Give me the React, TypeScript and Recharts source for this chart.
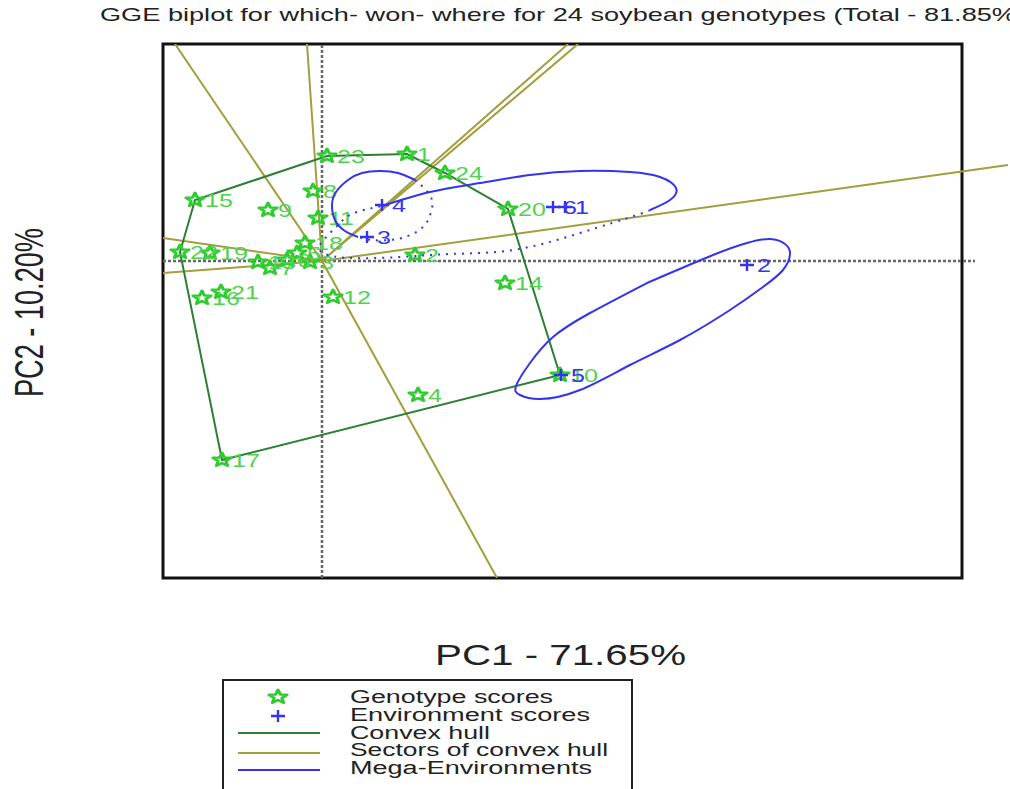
import React from 'react';
import { ScatterChart, Scatter, XAxis, YAxis, ReferenceLine, ReferenceArea } from 'recharts';

// genotype scores (PC1, PC2)
const genotypeNames = ['1', '2', '3', '4', '5', '6', '7', '8', '9', '10', '11', '12', '13', '14', '15', '16', '17', '18', '19', '20', '21', '22', '23', '24'];
const genotypePC1 = [0.85, 0.93, -0.12, 0.96, -0.25, -0.35, -0.52, -0.09, -0.54, 2.38, -0.04, 0.11, -0.64, 1.83, -1.27, -1.2, -1.0, -0.17, -1.12, 1.86, -1.01, -1.42, 0.05, 1.23];
const genotypePC2 = [1.07, 0.06, -0.01, -1.34, 0.08, 0.01, -0.07, 0.7, 0.51, -1.14, 0.43, -0.36, -0.01, -0.22, 0.61, -0.37, -1.99, 0.18, 0.08, 0.52, -0.31, 0.09, 1.05, 0.88];

// environment scores
const envNames = ['6', '1', '2', '3', '4', '5'];
const envPC1 = [2.31, 2.43, 4.25, 0.45, 0.6, 2.39];
const envPC2 = [0.54, 0.54, -0.04, 0.24, 0.56, -1.14];

// polygon vertices, in order
const hullOrder = ['23', '1', '24', '20', '10', '17', '22', '15', '23'];

// where each sector ray leaves the plot
const sectorEnds = [
  { x: -1.47, y: 2.17 },
  { x: -0.15, y: 2.17 },
  { x: 2.46, y: 2.17 },
  { x: 2.56, y: 2.17 },
  { x: 6.86, y: 0.96 },
  { x: 1.75, y: -3.17 },
  { x: -1.59, y: 0.23 },
  { x: -1.59, y: -0.12 },
];

// mega-environment outlines
const megaSmallSolid = [
  { x: 0.93, y: 0.81 }, { x: 0.76, y: 0.88 }, { x: 0.58, y: 0.9 }, { x: 0.4, y: 0.88 }, { x: 0.26, y: 0.81 },
  { x: 0.14, y: 0.69 }, { x: 0.1, y: 0.56 }, { x: 0.13, y: 0.41 }, { x: 0.23, y: 0.3 }, { x: 0.36, y: 0.24 },
];
const megaSmallDotted = [
  { x: 0.93, y: 0.81 }, { x: 1.02, y: 0.73 }, { x: 1.1, y: 0.61 }, { x: 1.09, y: 0.49 }, { x: 1.05, y: 0.39 },
  { x: 0.96, y: 0.3 }, { x: 0.83, y: 0.24 }, { x: 0.68, y: 0.21 }, { x: 0.5, y: 0.21 }, { x: 0.36, y: 0.24 },
];
const megaLongSolid = [
  { x: 0.6, y: 0.55 }, { x: 1.08, y: 0.69 }, { x: 1.58, y: 0.78 }, { x: 2.08, y: 0.86 }, { x: 2.58, y: 0.9 },
  { x: 3.08, y: 0.89 }, { x: 3.38, y: 0.84 }, { x: 3.54, y: 0.73 }, { x: 3.48, y: 0.61 }, { x: 3.28, y: 0.51 },
];
const megaLongDotted = [
  { x: 3.28, y: 0.51 }, { x: 3.15, y: 0.46 }, { x: 2.58, y: 0.28 }, { x: 1.91, y: 0.11 }, { x: 1.28, y: 0.07 },
  { x: 0.78, y: 0.04 }, { x: 0.28, y: 0.03 }, { x: 0.03, y: 0.07 }, { x: -0.02, y: 0.16 }, { x: 0.13, y: 0.33 },
  { x: 0.3, y: 0.47 }, { x: 0.6, y: 0.55 },
];
const megaLower = [
  { x: 3.25, y: -0.22 }, { x: 3.91, y: 0.06 }, { x: 4.25, y: 0.18 }, { x: 4.48, y: 0.22 }, { x: 4.63, y: 0.17 },
  { x: 4.68, y: 0.07 }, { x: 4.61, y: -0.09 }, { x: 4.41, y: -0.26 }, { x: 4.08, y: -0.49 }, { x: 3.58, y: -0.79 },
  { x: 3.08, y: -1.04 }, { x: 2.58, y: -1.29 }, { x: 2.18, y: -1.38 }, { x: 1.98, y: -1.34 }, { x: 1.94, y: -1.25 },
  { x: 2.08, y: -1.02 }, { x: 2.31, y: -0.76 }, { x: 2.68, y: -0.52 }, { x: 3.25, y: -0.22 },
];

const X_DOMAIN: [number, number] = [-1.59, 6.88];
const Y_DOMAIN: [number, number] = [-3.17, 2.17];
const BOX_RIGHT = 6.4;
const ZERO_END = 6.53;

const FONT = "'Liberation Sans', Arial, sans-serif";
const STAR_GREEN = '#2ecc2e';
const LABEL_GREEN = '#4fd34f';
const HULL_GREEN = '#2c7f33';
const OLIVE = '#a39e3e';
const BLUE = '#3434f0';
const STRETCH = 1.32;

const genotypes = genotypeNames.map((name, i) => ({ name, x: genotypePC1[i], y: genotypePC2[i] }));
const environments = envNames.map((name, i) => ({ name, x: envPC1[i], y: envPC2[i] }));
const hull = hullOrder.map((n) => genotypes.find((g) => g.name === n)!);
const sectors = sectorEnds.flatMap((p) => [{ x: 0, y: 0 }, p]);

function starPoints(r: number, ir: number) {
  const pts: string[] = [];
  for (let i = 0; i < 10; i++) {
    const a = -Math.PI / 2 + (i * Math.PI) / 5;
    const rr = i % 2 === 0 ? r : ir;
    pts.push(`${(rr * Math.cos(a)).toFixed(2)},${(rr * Math.sin(a)).toFixed(2)}`);
  }
  return pts.join(' ');
}
const STAR = starPoints(7.2, 3.1);

const NoMark = () => <g />;

const GenotypeMark = (props: any) => {
  const { cx, cy, payload } = props;
  if (cx == null || cy == null) return <g />;
  return (
    <g>
      <polygon points={STAR} transform={`translate(${cx},${cy}) scale(${STRETCH},1)`} fill="none"
        stroke={STAR_GREEN} strokeWidth={2.4} strokeLinejoin="round" />
      <text transform={`translate(${cx + 10},${cy + 7}) scale(${STRETCH},1)`} fontSize={19} fontFamily={FONT}
        fill={LABEL_GREEN}>{payload.name}</text>
    </g>
  );
};

const EnvMark = (props: any) => {
  const { cx, cy, payload } = props;
  if (cx == null || cy == null) return <g />;
  return (
    <g>
      <path d={`M${cx - 7},${cy}H${cx + 7}M${cx},${cy - 6}V${cy + 6}`} stroke={BLUE} strokeWidth={2.4} />
      <text transform={`translate(${cx + 10},${cy + 7}) scale(${STRETCH},1)`} fontSize={19} fontFamily={FONT}
        fill={BLUE}>{payload.name}</text>
    </g>
  );
};

const legendRows = [
  { label: 'Genotype scores', len: 203 },
  { label: 'Environment scores', len: 240 },
  { label: 'Convex hull', len: 140 },
  { label: 'Sectors of convex hull', len: 258 },
  { label: 'Mega-Environments', len: 242 },
];

function Overlay() {
  return (
    <svg width={1010} height={789} style={{ position: 'absolute', left: 0, top: 0, pointerEvents: 'none' }}
      fontFamily={FONT}>
      <text x={100} y={21} fontSize={19} fill="#222" textLength={916} lengthAdjust="spacingAndGlyphs">
        GGE biplot for which- won- where for 24 soybean genotypes (Total - 81.85%
      </text>
      <text x={435} y={665} fontSize={30} fill="#222" textLength={251} lengthAdjust="spacingAndGlyphs">
        PC1 - 71.65%
      </text>
      <text transform="translate(43,397) rotate(-90) scale(1,1.5)" fontSize={27} fill="#222" textLength={169}
        lengthAdjust="spacingAndGlyphs">
        PC2 - 10.20%
      </text>

      {/* legend */}
      <rect x={223} y={680} width={409} height={130} fill="none" stroke="#222" strokeWidth={2} />
      <polygon points={STAR} transform={`translate(278,697) scale(${STRETCH},1)`} fill="none" stroke={STAR_GREEN}
        strokeWidth={2.4} strokeLinejoin="round" />
      <path d="M271,716H285M278,710V722" stroke={BLUE} strokeWidth={2.4} />
      <line x1={238} x2={320} y1={733} y2={733} stroke={HULL_GREEN} strokeWidth={2} />
      <line x1={238} x2={320} y1={753} y2={753} stroke={OLIVE} strokeWidth={2} />
      <line x1={238} x2={320} y1={770} y2={770} stroke={BLUE} strokeWidth={2} />
      {legendRows.map((r, i) => (
        <text key={r.label} x={350} y={703 + i * 17.8} fontSize={18} fill="#222" textLength={r.len}
          lengthAdjust="spacingAndGlyphs">{r.label}</text>
      ))}
    </svg>
  );
}

export default function App() {
  return (
    <div style={{ position: 'relative', width: 1010, height: 789, background: '#fff' }}>
      <style>{'body{margin:0}'}</style>
      <ScatterChart width={1010} height={789} margin={{ top: 44, right: 0, bottom: 211, left: 163 }}>
        <XAxis type="number" dataKey="x" domain={X_DOMAIN} allowDataOverflow hide />
        <YAxis type="number" dataKey="y" domain={Y_DOMAIN} allowDataOverflow hide />
        <ReferenceArea x1={X_DOMAIN[0]} x2={BOX_RIGHT} y1={Y_DOMAIN[0]} y2={Y_DOMAIN[1]} fill="none"
          stroke="#111" strokeWidth={3} ifOverflow="visible" />
        <ReferenceLine x={0} stroke="#666" strokeWidth={2.5} strokeDasharray="3 2" />
        <ReferenceLine segment={[{ x: X_DOMAIN[0], y: 0 }, { x: ZERO_END, y: 0 }]} stroke="#666" strokeWidth={2.5}
          strokeDasharray="3 2" />

        <Scatter data={sectors} shape={NoMark} line={{ stroke: OLIVE, strokeWidth: 2 }} isAnimationActive={false} />
        <Scatter data={hull} shape={NoMark} line={{ stroke: HULL_GREEN, strokeWidth: 2 }} isAnimationActive={false} />
        <Scatter data={genotypes} shape={GenotypeMark} isAnimationActive={false} />

        <Scatter data={megaSmallSolid} shape={NoMark} line={{ stroke: BLUE, strokeWidth: 2 }} lineJointType="natural"
          isAnimationActive={false} />
        <Scatter data={megaSmallDotted} shape={NoMark} line={{ stroke: BLUE, strokeWidth: 2, strokeDasharray: '2 6' }}
          lineJointType="natural" isAnimationActive={false} />
        <Scatter data={megaLongSolid} shape={NoMark} line={{ stroke: BLUE, strokeWidth: 2 }} lineJointType="natural"
          isAnimationActive={false} />
        <Scatter data={megaLongDotted} shape={NoMark} line={{ stroke: BLUE, strokeWidth: 2, strokeDasharray: '2 6' }}
          lineJointType="natural" isAnimationActive={false} />
        <Scatter data={megaLower} shape={NoMark} line={{ stroke: BLUE, strokeWidth: 2 }} lineJointType="natural"
          isAnimationActive={false} />

        <Scatter data={environments} shape={EnvMark} isAnimationActive={false} />
      </ScatterChart>
      <Overlay />
    </div>
  );
}
